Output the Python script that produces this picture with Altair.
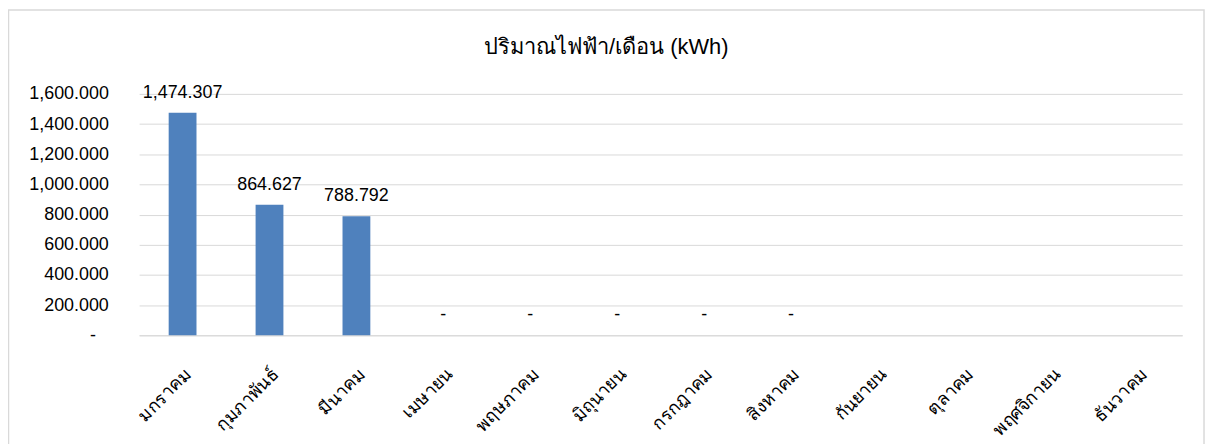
import altair as alt
import pandas as pd

months = ["มกราคม", "กุมภาพันธ์", "มีนาคม", "เมษายน", "พฤษภาคม", "มิถุนายน",
          "กรกฎาคม", "สิงหาคม", "กันยายน", "ตุลาคม", "พฤศจิกายน", "ธันวาคม"]
values = [1474.307, 864.627, 788.792, 0, 0, 0, 0, 0, None, None, None, None]
y_ticks = [0, 200, 400, 600, 800, 1000, 1200, 1400, 1600]
title_text = "ปริมาณไฟฟ้า/เดือน (kWh)"

df = pd.DataFrame({"month": months, "value": values})

FONT = "Liberation Sans"
GRID = "#d9d9d9"

x_enc = alt.X("month:N", sort=months, title=None,
              scale=alt.Scale(paddingInner=0.68, paddingOuter=0.34),
              axis=alt.Axis(labelAngle=-45, ticks=False, labelPadding=30,
                            domainColor=GRID, labelFont=FONT, labelFontSize=18,
                            labelColor="#000000", labelOverlap=False))
y_enc = alt.Y("value:Q", scale=alt.Scale(domain=[0, 1600], nice=False), title=None,
              axis=alt.Axis(values=y_ticks, ticks=False, domain=False, gridColor=GRID,
                            labelPadding={"condition": {"test": "datum.value == 0", "value": 44}, "value": 31},
                            labelFont=FONT, labelFontSize=18,
                            labelColor="#000000", labelOverlap=False,
                            labelExpr="datum.value == 0 ? '-' : format(datum.value, ',.3f')"))

frame = alt.Chart(pd.DataFrame({"k": [0]})).mark_rect(
    fill=None, stroke=GRID, strokeWidth=1.5, clip=False
).encode(x=alt.value(-131.5), x2=alt.value(1072), y=alt.value(-84.5), y2=alt.value(380))

bars = alt.Chart(df).mark_bar(color="#4f81bd").encode(x=x_enc, y=y_enc)

labels = alt.Chart(df).transform_filter(
    "isValid(datum.value)"
).transform_calculate(
    lbl="datum.value == 0 ? '-' : format(datum.value, ',.3f')"
).mark_text(font=FONT, fontSize=18, color="#000000", baseline="alphabetic", dy=-15).encode(
    x=x_enc, y=y_enc, text="lbl:N",
)

chart = alt.layer(frame, bars, labels).properties(
    width=1050, height=243,
    padding={"left": 132, "top": 85, "right": 24, "bottom": 108},
    autosize=alt.AutoSizeParams(type="none"),
    title=alt.TitleParams(title_text, font=FONT, fontSize=22, fontWeight="normal",
                          color="#000000", anchor="middle", frame="bounds", offset=-50),
).configure_view(stroke=None)

chart.save("out.html", embed_options={"renderer": "svg", "actions": False})
